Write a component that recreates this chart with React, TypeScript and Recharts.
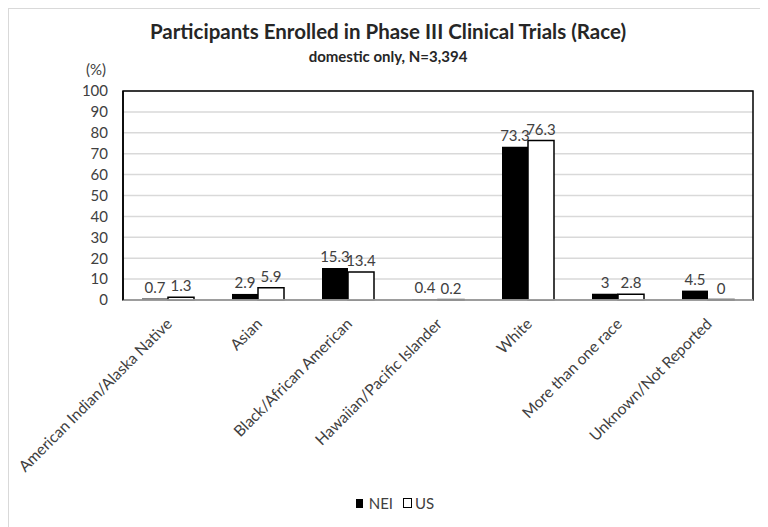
import { BarChart, Bar, XAxis, YAxis, CartesianGrid, LabelList, ReferenceArea, Legend } from "recharts";

const categories = [
  "American Indian/Alaska Native",
  "Asian",
  "Black/African American",
  "Hawaiian/Pacific Islander",
  "White",
  "More than one race",
  "Unknown/Not Reported",
];
const neiValues = [0.7, 2.9, 15.3, 0.4, 73.3, 3, 4.5];
const usValues = [1.3, 5.9, 13.4, 0.2, 76.3, 2.8, 0];
const yTicks = [0, 10, 20, 30, 40, 50, 60, 70, 80, 90, 100];

const chartData = categories.map((name, i) => ({ name, NEI: neiValues[i], US: usValues[i] }));

const FONT = "Lato, 'Open Sans', sans-serif";
const TEXT = "#404040";

function SlantTick(props: any) {
  const { x, y, payload } = props;
  return (
    <g transform={`translate(${x + 5},${y + 17})`}>
      <text x={0} y={0} textAnchor="end" transform="rotate(-45)" fill={TEXT} fontSize={15.5} fontFamily={FONT}>
        {payload.value}
      </text>
    </g>
  );
}

// draws the value even when the bar has no height
function TopLabel(props: any) {
  const { x, y, width, value } = props;
  return (
    <text x={x + width / 2} y={y - 6} textAnchor="middle" fill={TEXT} fontSize={15} fontFamily={FONT}>
      {value}
    </text>
  );
}

function LegendBox() {
  return (
    <div style={{ display: "flex", justifyContent: "center", alignItems: "center", paddingLeft: 28, fontFamily: FONT, fontSize: 15, color: TEXT }}>
      <span style={{ width: 7, height: 9, background: "#000", display: "inline-block", marginRight: 6 }} />
      <span style={{ marginRight: 10 }}>NEI</span>
      <span style={{ width: 7, height: 8, border: "1.5px solid #000", background: "#fff", display: "inline-block", marginRight: 3 }} />
      <span>US</span>
    </div>
  );
}

export default function App() {
  return (
    <div
      style={{
        position: "relative",
        width: 759,
        height: 518,
        borderLeft: "1px solid #d9d9d9",
        borderTop: "1px solid #d9d9d9",
        background: "#fff",
        fontFamily: FONT,
      }}
    >
      <div style={{ position: "absolute", left: 0, width: 758, top: 10, textAlign: "center", fontSize: 20.5, fontWeight: 700, color: "#262626" }}>
        Participants Enrolled in Phase III Clinical Trials (Race)
      </div>
      <div style={{ position: "absolute", left: 0, width: 758, top: 38, textAlign: "center", fontSize: 15, fontWeight: 700, color: "#262626" }}>
        domestic only, N=3,394
      </div>
      <div style={{ position: "absolute", left: 77, top: 51, fontSize: 15, color: TEXT }}>(%)</div>
      <BarChart
        width={759}
        height={518}
        data={chartData}
        margin={{ top: 82, right: 15, left: 0, bottom: 0 }}
        barSize={26}
        barGap={0}
      >
        <CartesianGrid vertical={false} stroke="#d9d9d9" strokeWidth={1.5} />
        <XAxis
          dataKey="name"
          interval={0}
          height={209}
          tick={<SlantTick />}
          tickLine={false}
          axisLine={{ stroke: "#bfbfbf", strokeWidth: 1.5 }}
        />
        <YAxis
          width={114}
          domain={[0, 100]}
          ticks={yTicks}
          interval={0}
          tickSize={0}
          tickMargin={15}
          tickLine={false}
          axisLine={{ stroke: "#000", strokeWidth: 1.5 }}
          tick={{ fill: TEXT, fontSize: 15, fontFamily: FONT }}
        />
        <ReferenceArea y1={0} y2={100} fill="none" stroke="#000" strokeWidth={1.5} />
        <Legend
          verticalAlign="bottom"
          wrapperStyle={{ bottom: 15 }}
          content={() => <LegendBox />}
        />
        <Bar dataKey="NEI" fill="#000" isAnimationActive={false}>
          <LabelList dataKey="NEI" content={<TopLabel />} />
        </Bar>
        <Bar
          dataKey="US"
          fill="#fff"
          stroke="#000"
          strokeWidth={1.5}
          minPointSize={(v: number) => (v === 0 ? 0.5 : 0)}
          isAnimationActive={false}
        >
          <LabelList dataKey="US" content={<TopLabel />} />
        </Bar>
      </BarChart>
    </div>
  );
}
